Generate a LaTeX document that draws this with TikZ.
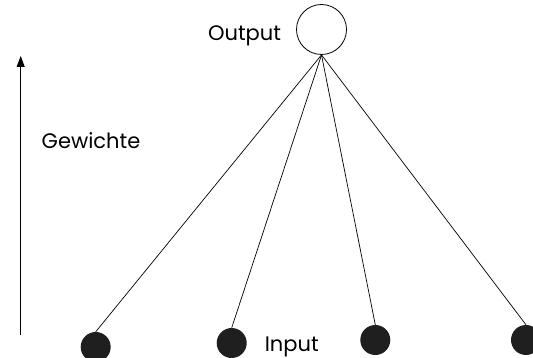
\documentclass[tikz,border=0pt]{standalone}
\usepackage{fontspec}
\setmainfont{Poppins}
\usetikzlibrary{arrows.meta}
\begin{document}
\begin{tikzpicture}[x=1pt,y=-1pt,
  lbl/.style={font=\fontsize{21}{24}\selectfont, inner sep=0pt, anchor=base},
  unit/.style={circle, fill=black!88, minimum size=30pt, inner sep=0pt},
  outunit/.style={circle, draw=black, line width=0.8pt, minimum size=50pt, inner sep=0pt},
  weight/.style={line width=0.7pt}]
\useasboundingbox (0,0) rectangle (533,358);
% output neuron
\node[outunit] (out) at (321.5,29.5) {};
% input neurons
\node[unit] (in1) at (95.7,347) {};
\node[unit] (in2) at (231.7,343) {};
\node[unit] (in3) at (375.3,340) {};
\node[unit] (in4) at (526,340) {};
% weighted connections
\foreach \i in {1,...,4} \draw[weight] (out.south) -- (in\i.north);
% direction of the weights
\coordinate (abot) at (20.7,335);
\coordinate (atop) at (20.7,56);
\draw[line width=0.8pt, -{Triangle[length=11pt,width=8pt]}] (abot) -- (atop);
% labels
\node[lbl] (lout) at (244.5,40.5) {Output};
\node[lbl] (lgew) at (91,148.3) {Gewichte};
\node[lbl] (lin) at (291.7,351.7) {Input};
\end{tikzpicture}
\end{document}
